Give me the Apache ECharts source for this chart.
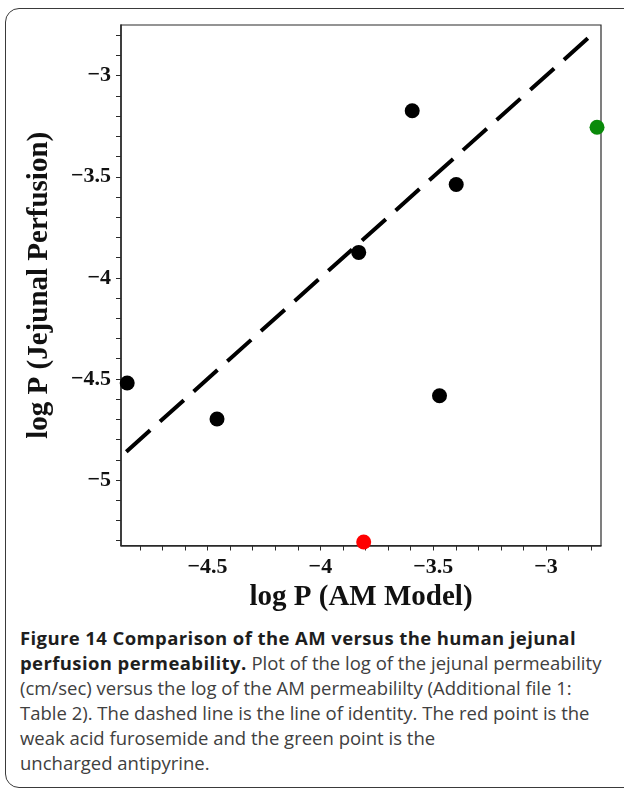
<!DOCTYPE html>
<html>
<head>
<meta charset="utf-8">
<script src="https://cdn.jsdelivr.net/npm/echarts@6/dist/echarts.min.js"></script>
<style>
  html, body { margin: 0; padding: 0; background: #fff; }
  #page { position: relative; width: 624px; height: 790px; overflow: hidden; }
  #frame { position: absolute; left: 5px; top: 8px; width: 680px; height: 780px;
           border: 1.5px solid #3a3a3a; border-radius: 14px; box-sizing: border-box; }
  #chart { position: absolute; left: 0; top: 0; width: 624px; height: 625px; }
  #caption { position: absolute; left: 20px; top: 625px; font-family: "Open Sans", sans-serif;
             font-size: 18.5px; line-height: 25px; color: #404040; white-space: nowrap; }
  #caption b { color: #1e1e1e; font-weight: 700; letter-spacing: 0.4px; }
</style>
</head>
<body>
<div id="page">
  <div id="frame"></div>
  <div id="chart"></div>
  <div id="caption"><b>Figure 14 Comparison of the AM versus the human jejunal</b><br><b>perfusion permeability.</b> Plot of the log of the jejunal permeability<br>(cm/sec) versus the log of the AM permeabililty (Additional file 1:<br>Table 2). The dashed line is the line of identity. The red point is the<br>weak acid furosemide and the green point is the<br>uncharged antipyrine.</div>
</div>
<script>
// ---- data ----
const blackX = [-4.856, -4.458, -3.830, -3.593, -3.398, -3.472];
const blackY = [-4.520, -4.698, -3.874, -3.173, -3.538, -4.583];
const redX = [-3.808];
const redY = [-5.307];
const greenX = [-2.774];
const greenY = [-3.255];
const identityRange = [-4.860, -2.814];
const xTickValues = [-4.8, -4.7, -4.6, -4.5, -4.4, -4.3, -4.2, -4.1, -4.0, -3.9, -3.8, -3.7, -3.6, -3.5, -3.4, -3.3, -3.2, -3.1, -3.0, -2.9, -2.8];
const xLabelValues = [-4.5, -4.0, -3.5, -3.0];
const yTickValues = [-5.3, -5.2, -5.1, -5.0, -4.9, -4.8, -4.7, -4.6, -4.5, -4.4, -4.3, -4.2, -4.1, -4.0, -3.9, -3.8, -3.7, -3.6, -3.5, -3.4, -3.3, -3.2, -3.1, -3.0, -2.9, -2.8];
const yLabelValues = [-5.0, -4.5, -4.0, -3.5, -3.0];
const xTitle = 'log P (AM Model)';
const yTitle = 'log P (Jejunal Perfusion)';

const zip = (xs, ys) => xs.map((x, i) => [x, ys[i]]);
const fmt = v => (v < 0 ? '\u2212' : '') + String(Math.abs(Math.round(v * 10) / 10));
const serif = '"Liberation Serif", "Times New Roman", serif';

const chart = echarts.init(document.getElementById('chart'), null, { renderer: 'canvas' });
chart.setOption({
  animation: false,
  backgroundColor: 'transparent',
  grid: { left: 121, top: 25, width: 480, height: 520.5, show: true, borderColor: '#2a2a2a', borderWidth: 1.2, containLabel: false },
  xAxis: {
    type: 'value', min: -4.8835, max: -2.7564, position: 'bottom',
    name: xTitle, nameLocation: 'middle', nameGap: 37,
    nameTextStyle: { fontFamily: serif, fontWeight: 'bold', fontSize: 29, color: '#111' },
    axisLine: { show: true, onZero: false, lineStyle: { color: '#2a2a2a', width: 1.5 } },
    axisTick: { show: true, inside: false, length: 5, customValues: xTickValues, lineStyle: { color: '#2a2a2a', width: 1 } },
    axisLabel: { show: true, customValues: xLabelValues, formatter: fmt, margin: 11,
                 fontFamily: serif, fontWeight: 'bold', fontSize: 22, color: '#111' },
    splitLine: { show: false }
  },
  yAxis: {
    type: 'value', min: -5.324, max: -2.749, position: 'left',
    name: yTitle, nameLocation: 'middle', nameGap: 67, nameRotate: 90,
    nameTextStyle: { fontFamily: serif, fontWeight: 'bold', fontSize: 29, color: '#111' },
    axisLine: { show: true, onZero: false, lineStyle: { color: '#2a2a2a', width: 1.5 } },
    axisTick: { show: true, inside: false, length: 5, customValues: yTickValues, lineStyle: { color: '#2a2a2a', width: 1 } },
    axisLabel: { show: true, customValues: yLabelValues, formatter: fmt, margin: 10,
                 fontFamily: serif, fontWeight: 'bold', fontSize: 22, color: '#111' },
    splitLine: { show: false }
  },
  series: [
    {
      type: 'line', data: zip(identityRange, identityRange), symbol: 'none',
      lineStyle: { color: '#000', width: 4, type: [32, 13.2], cap: 'butt', opacity: 1 }, silent: true, z: 2
    },
    { type: 'scatter', data: zip(blackX, blackY), symbol: 'circle', symbolSize: 15, itemStyle: { color: '#000', opacity: 1 }, z: 3, clip: false },
    { type: 'scatter', data: zip(redX, redY), symbol: 'circle', symbolSize: 15, itemStyle: { color: '#ff0000', opacity: 1 }, z: 3, clip: false },
    { type: 'scatter', data: zip(greenX, greenY), symbol: 'circle', symbolSize: 15, itemStyle: { color: '#0a8a0a', opacity: 1 }, z: 3, clip: false }
  ]
});
</script>
</body>
</html>
